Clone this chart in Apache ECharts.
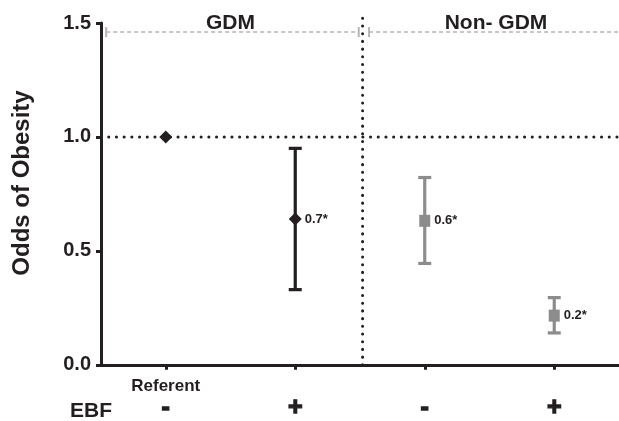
<!DOCTYPE html>
<html><head><meta charset="utf-8">
<script src="https://cdn.jsdelivr.net/npm/echarts@6/dist/echarts.min.js"></script>
<style>html,body{margin:0;padding:0;background:#fff}#c{width:619px;height:421px}</style>
</head><body><div id="c"></div>
<script>
// ---- data ----
var categories = ['Referent', '', '', ''];
var ebfLabels = ['-', '+', '-', '+'];
var groupNames = ['GDM', 'Non- GDM'];
var groupLabelX = [0.5, 2.55];
var odds = [1.0, 0.64, 0.632, 0.216];
var lowerCI = [null, 0.33, 0.445, 0.14];
var upperCI = [null, 0.95, 0.822, 0.295];
var pointLabels = ['', '0.7*', '0.6*', '0.2*'];
var groupOf = [0, 0, 1, 1];
var yTicks = [0, 0.5, 1.0, 1.5];
var referenceOdds = 1.0;
var dividerX = 1.52;
var groupSpanY = 1.46;
var groupSpans = [[-0.46, 1.49], [1.57, 3.5]];

var dark = '#231f20', grey = '#8c8c8c', lightGrey = '#b5b5b5';
var font = '"Liberation Sans", Arial, Helvetica, sans-serif';

var errData = [], gdmPts = [], nonPts = [];
for (var i = 0; i < odds.length; i++) {
  if (lowerCI[i] != null) errData.push([i, lowerCI[i], upperCI[i], groupOf[i]]);
  var p = {value: [i, odds[i]], label: {formatter: pointLabels[i]}};
  (groupOf[i] === 0 ? gdmPts : nonPts).push(p);
}

var chart = echarts.init(document.getElementById('c'));
chart.setOption({
  animation: false,
  grid: {left: 101, right: 0, top: 23, bottom: 53, containLabel: false},
  xAxis: {
    type: 'value', min: -0.5, max: 3.5,
    splitLine: {show: false},
    axisLine: {onZero: false, lineStyle: {color: dark, width: 3}},
    axisTick: {show: true, customValues: [0, 1, 2, 3], length: 5, lineStyle: {color: dark, width: 3}},
    axisLabel: {
      customValues: [0, 1, 2, 3], margin: 11, color: dark,
      formatter: function (v) {
        var k = Math.round(v);
        return (categories[k] ? '{r|' + categories[k] + '}' : '{r| }') + '\n{s|' + ebfLabels[k] + '}';
      },
      rich: {
        r: {fontFamily: font, fontWeight: 'bold', fontSize: 17, color: dark, height: 20, lineHeight: 20},
        s: {fontFamily: font, fontWeight: 'bold', fontSize: 25, color: dark, height: 24, lineHeight: 24,
            textBorderColor: dark, textBorderWidth: 1.3}
      }
    }
  },
  yAxis: {
    type: 'value', min: 0, max: 1.5, interval: 0.5,
    splitLine: {show: false},
    axisLine: {show: true, onZero: false, lineStyle: {color: dark, width: 3}},
    axisTick: {show: true, length: 5, lineStyle: {color: dark, width: 3}},
    axisLabel: {
      margin: 10, color: dark, fontFamily: font, fontWeight: 'bold', fontSize: 20,
      formatter: function (v) { return v.toFixed(1); }
    }
  },
  graphic: [
    {type: 'text', x: 22, y: 183, rotation: Math.PI / 2,
     style: {text: 'Odds of Obesity', font: 'bold 24px ' + font, fill: dark, textAlign: 'center', textVerticalAlign: 'middle'}},
    {type: 'text', x: 91, y: 411,
     style: {text: 'EBF', font: 'bold 21px ' + font, fill: dark, textAlign: 'center', textVerticalAlign: 'middle'}}
  ],
  series: [
    {
      type: 'custom', silent: true, clip: false, z: 1,
      data: [[0]],
      renderItem: function (params, api) {
        var children = [];
        var a = api.coord([-0.5, referenceOdds]), b = api.coord([3.5, referenceOdds]);
        children.push({type: 'line', shape: {x1: a[0], y1: a[1], x2: b[0], y2: b[1]},
          style: {stroke: dark, lineWidth: 3, lineDash: [0.1, 7.6], lineCap: 'round'}});
        var c = api.coord([dividerX, 0]), d = api.coord([dividerX, 1.545]);
        children.push({type: 'line', shape: {x1: c[0], y1: c[1], x2: d[0], y2: d[1]},
          style: {stroke: dark, lineWidth: 3, lineDash: [0.1, 7.6], lineCap: 'round'}});
        for (var g = 0; g < groupSpans.length; g++) {
          var s = api.coord([groupSpans[g][0], groupSpanY]), e = api.coord([groupSpans[g][1], groupSpanY]);
          children.push({type: 'line', shape: {x1: s[0], y1: s[1], x2: e[0], y2: e[1]},
            style: {stroke: lightGrey, lineWidth: 1.5, lineDash: [4, 3]}});
          children.push({type: 'line', shape: {x1: s[0], y1: s[1] - 5, x2: s[0], y2: s[1] + 5},
            style: {stroke: lightGrey, lineWidth: 2}});
          if (g === 0) children.push({type: 'line', shape: {x1: e[0], y1: e[1] - 5, x2: e[0], y2: e[1] + 5},
            style: {stroke: lightGrey, lineWidth: 2}});
          var t = api.coord([groupLabelX[g], 1.5]);
          children.push({type: 'text', x: t[0], y: t[1],
            style: {text: groupNames[g], font: 'bold 21px ' + font, fill: dark, textAlign: 'center', textVerticalAlign: 'middle'}});
        }
        return {type: 'group', children: children};
      }
    },
    {
      type: 'custom', silent: true, z: 2,
      data: errData,
      encode: {x: 0, y: [1, 2]},
      renderItem: function (params, api) {
        var x = api.value(0), lo = api.coord([x, api.value(1)]), hi = api.coord([x, api.value(2)]);
        var col = api.value(3) === 0 ? dark : grey;
        var w = 6.5;
        var st = {stroke: col, lineWidth: 3.2};
        return {type: 'group', children: [
          {type: 'line', shape: {x1: lo[0], y1: lo[1], x2: hi[0], y2: hi[1]}, style: st},
          {type: 'line', shape: {x1: lo[0] - w, y1: lo[1], x2: lo[0] + w, y2: lo[1]}, style: st},
          {type: 'line', shape: {x1: hi[0] - w, y1: hi[1], x2: hi[0] + w, y2: hi[1]}, style: st}
        ]};
      }
    },
    {
      type: 'scatter', z: 3, symbol: 'diamond', symbolSize: 13,
      itemStyle: {color: dark, opacity: 1},
      label: {show: true, position: 'right', distance: 3, color: dark, fontFamily: font, fontWeight: 'bold', fontSize: 13},
      data: gdmPts
    },
    {
      type: 'scatter', z: 3, symbol: 'rect', symbolSize: [11, 12],
      itemStyle: {color: grey, opacity: 1},
      label: {show: true, position: 'right', distance: 4, color: dark, fontFamily: font, fontWeight: 'bold', fontSize: 13},
      data: nonPts
    }
  ]
});
</script></body></html>
